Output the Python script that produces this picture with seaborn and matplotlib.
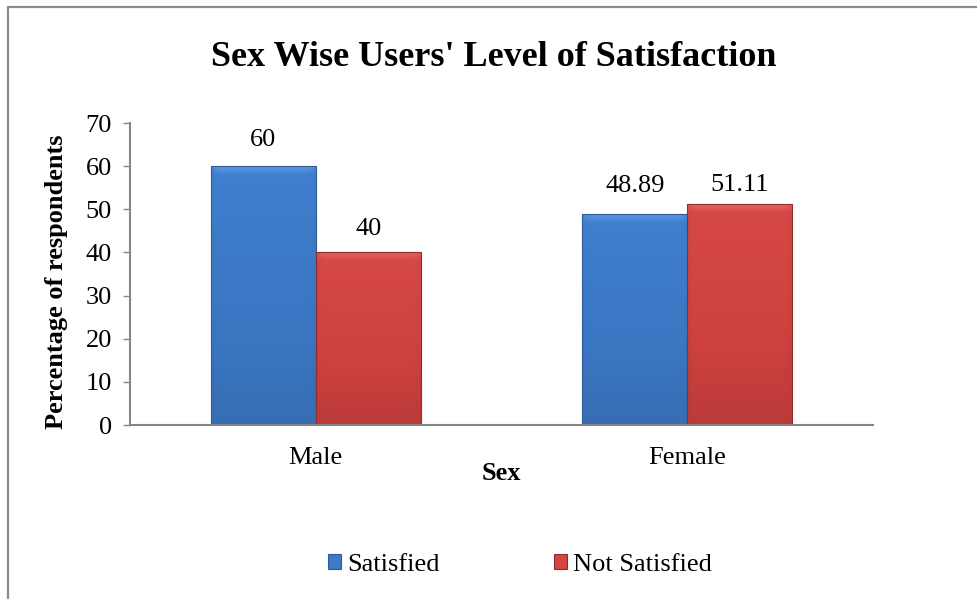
import numpy as np
import pandas as pd
import matplotlib
matplotlib.use("Agg")
import matplotlib.pyplot as plt
from matplotlib.patches import Patch
from matplotlib.lines import Line2D
from matplotlib.colors import LinearSegmentedColormap
import seaborn as sns

# ---- data ----
sexes = ["Male", "Female"]
statuses = ["Satisfied", "Not Satisfied"]
satisfied = [60, 48.89]
not_satisfied = [40, 51.11]
value_labels_sat = ["60", "48.89"]
value_labels_not = ["40", "51.11"]
y_ticks = [0, 10, 20, 30, 40, 50, 60, 70]

df = pd.DataFrame({
    "Sex": sexes * 2,
    "Status": [statuses[0]] * 2 + [statuses[1]] * 2,
    "Value": satisfied + not_satisfied,
})

sns.set_theme(style="white", rc={
    "text.color": "black", "axes.labelcolor": "black",
    "xtick.color": "black", "ytick.color": "black",
})
SERIF = ["Liberation Serif", "DejaVu Serif"]
plt.rcParams["font.family"] = SERIF

FS = 19
W, H = 977, 599
fig = plt.figure(figsize=(W / 100, H / 100), dpi=100)
ax = fig.add_axes([130 / W, (H - 425) / H, (873 - 130) / W, (425 - 123) / H])

main_cols = {"Satisfied": "#3C7BC8", "Not Satisfied": "#D34442"}
sns.barplot(data=df, x="Sex", y="Value", hue="Status", hue_order=statuses,
            order=sexes, palette=main_cols, saturation=1, width=0.565,
            ax=ax, legend=False, edgecolor="none", errorbar=None)

# shaded fill for each bar
shades = {
    "Satisfied": ["#5A97E0", "#3F7FCD", "#3A76C2", "#3467A9"],
    "Not Satisfied": ["#E66460", "#D54846", "#CC403E", "#AE3735"],
}
edge_cols = {"Satisfied": "#2E5A94", "Not Satisfied": "#8E2D2B"}
bars = [p for p in ax.patches if p.get_height() > 0]
bar_status = [statuses[0]] * 2 + [statuses[1]] * 2
for patch, st in zip(bars, bar_status):
    x0, y0 = patch.get_x(), patch.get_y()
    w, h = patch.get_width(), patch.get_height()
    cmap = LinearSegmentedColormap.from_list(st, shades[st][::-1])
    ny = 200
    top_px = 8 / 4.314  # bevel height in data units
    frac = np.linspace(h, 0, ny)
    bevel = np.clip(1 - (h - frac) / top_px, 0, 1)
    vals = 0.15 + 0.55 * (frac / h) + 0.3 * bevel
    nx = 60
    xs = np.linspace(-1, 1, nx)
    side = 1 - 0.12 * np.clip((np.abs(xs) - 0.85) / 0.15, 0, 1)
    grad = np.outer(vals, side)
    im = ax.imshow(grad, cmap=cmap, vmin=0, vmax=1, aspect="auto",
                   extent=[x0, x0 + w, y0, y0 + h], zorder=patch.get_zorder() + 0.1,
                   interpolation="bilinear")
    im.set_clip_path(patch)
    ax.add_patch(plt.Rectangle((x0, y0), w, h, fill=False, edgecolor=edge_cols[st],
                               linewidth=0.8, zorder=patch.get_zorder() + 0.2))

# value labels above the bars
label_offsets = [26, 28, 23, 19]
for patch, txt, off in zip(bars, value_labels_sat + value_labels_not, label_offsets):
    ax.annotate(txt, (patch.get_x() + patch.get_width() / 2, patch.get_height()),
                xytext=(0, off), textcoords="offset pixels", ha="center", va="center",
                fontsize=FS, color="black", family=SERIF)

ax.set_xlim(-0.5, 1.5)
ax.set_ylim(0, 70)
ax.set_yticks(y_ticks)
ax.tick_params(axis="y", which="major", length=5, width=1, color="#868686",
               direction="out", left=True, pad=8, labelsize=FS, labelcolor="black")
ax.tick_params(axis="x", length=0, pad=16, labelsize=FS, labelcolor="black")

for side_name in ["top", "right"]:
    ax.spines[side_name].set_visible(False)
for side_name in ["left", "bottom"]:
    ax.spines[side_name].set_color("#868686")
    ax.spines[side_name].set_linewidth(1.5)
ax.set_facecolor("none")

ax.set_xlabel("Sex", fontsize=FS, fontweight="bold", va="center", family=SERIF)
ax.xaxis.set_label_coords(0.5, (425 - 473) / 302)
ax.set_ylabel("Percentage of respondents", fontsize=FS, fontweight="bold", va="center",
              family=SERIF)
ax.yaxis.set_label_coords((56 - 130) / 743, (425 - 282) / 302)

fig.text(494 / W, 1 - 57 / H, "Sex Wise Users' Level of Satisfaction",
         ha="center", va="center", fontsize=26, fontweight="bold", color="black",
         family=SERIF)

handles = [Patch(facecolor=main_cols[s], edgecolor=edge_cols[s], linewidth=0.8) for s in statuses]
fig.legend(handles, statuses, loc="center", bbox_to_anchor=(520 / W, 1 - 565 / H),
           ncol=2, frameon=False, prop={"family": SERIF, "size": FS},
           handlelength=0.5, handleheight=0.5, handletextpad=0.25, columnspacing=4.3)

# chart frame
fig.add_artist(Line2D([8 / W, 8 / W], [0, 1 - 7 / H], transform=fig.transFigure,
                      color="#8C8C8C", linewidth=1.6))
fig.add_artist(Line2D([8 / W, 1], [1 - 7 / H, 1 - 7 / H], transform=fig.transFigure,
                      color="#8C8C8C", linewidth=1.6))

fig.savefig("out.png", dpi=100, facecolor="white")
